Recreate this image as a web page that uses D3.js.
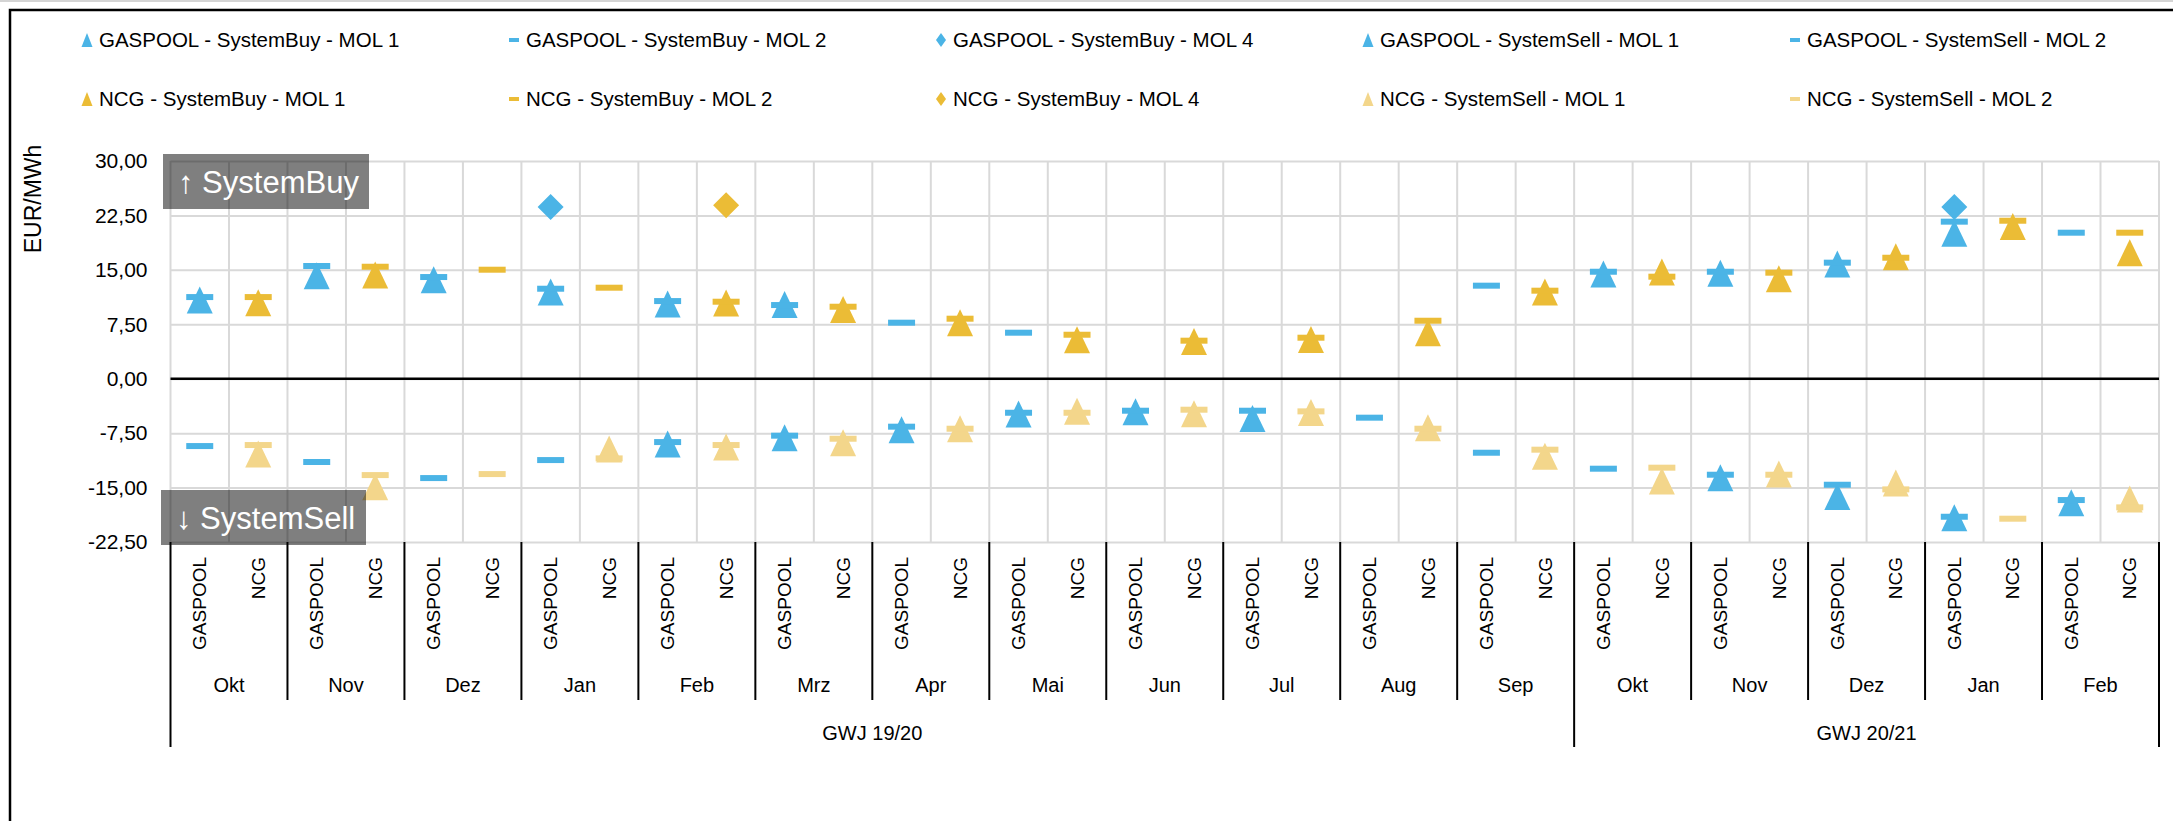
<!DOCTYPE html>
<html>
<head>
<meta charset="utf-8">
<script src="https://cdn.jsdelivr.net/npm/d3@7"></script>
<style>
  body { margin: 0; background: #fff; }
  svg { display: block; font-family: "Liberation Sans", Arial, sans-serif; }
</style>
</head>
<body>
<script>
// Categories: months, grouped by gas year, each split into the two hubs
const months = ["Okt", "Nov", "Dez", "Jan", "Feb", "Mrz", "Apr", "Mai", "Jun", "Jul", "Aug", "Sep",
                "Okt", "Nov", "Dez", "Jan", "Feb"];
const gwjLabels = ["GWJ 19/20", "GWJ 20/21"];
const monthsPerGwj = [12, 5];
const hubs = ["GASPOOL", "NCG"];
const yTicks = [-22.5, -15, -7.5, 0, 7.5, 15, 22.5, 30];

// GASPOOL values in EUR/MWh, one per month (null = no value)
const gaspoolBuyMol1 = [10.84, 14.19, 13.64, 11.94, 10.29, 10.24, null, null, null, null, null, null, 14.42, 14.52, 15.80, 20.03, null];
const gaspoolBuyMol2 = [11.25, 15.53, 14.01, 12.40, 10.70, 10.15, 7.72, 6.34, null, null, null, 12.82, 14.74, 14.74, 15.99, 21.64, 20.12];
const gaspoolBuyMol4 = [null, null, null, 23.66, null, null, null, null, null, null, null, null, null, null, null, 23.66, null];
const gaspoolSellMol1 = [null, null, null, null, -9.00, -8.13, -7.03, -4.87, -4.55, -5.47, null, null, null, -13.64, -16.22, -19.15, -17.09];
const gaspoolSellMol2 = [-9.28, -11.48, -13.69, -11.21, -8.73, -7.85, -6.61, -4.69, -4.41, -4.41, -5.37, -10.20, -12.40, -13.23, -14.61, -19.02, -16.72];

// NCG values in EUR/MWh
const ncgBuyMol1 = [10.47, 14.29, null, null, 10.43, 9.55, 7.72, 5.37, 5.14, 5.42, 6.34, 11.94, 14.70, 13.78, 16.81, 20.99, 17.36];
const ncgBuyMol2 = [11.25, 15.43, 15.02, 12.54, 10.61, 9.92, 8.27, 6.06, 5.24, 5.65, 7.99, 12.13, 14.06, 14.61, 16.67, 21.77, 20.12];
const ncgBuyMol4 = [null, null, null, null, 23.89, null, null, null, null, null, null, null, null, null, null, null, null];
const ncgSellMol1 = [-10.38, -14.88, null, -9.69, -9.42, -8.82, -6.89, -4.50, -4.82, -4.64, -6.75, -10.70, -14.10, -13.14, -14.38, null, -16.58];
const ncgSellMol2 = [-9.14, -13.28, -13.14, -10.98, -9.14, -8.27, -6.89, -4.69, -4.27, -4.50, -6.89, -9.78, -12.26, -13.23, -15.25, -19.29, -17.73];

const blue = "#4bb4e6";
const gold = "#ebbc36";
const lightGold = "#f3d68b";

// series in legend / drawing order
const series = [
  { name: "GASPOOL - SystemBuy - MOL 1", hub: "GASPOOL", values: gaspoolBuyMol1, shape: "triangle", color: blue },
  { name: "GASPOOL - SystemBuy - MOL 2", hub: "GASPOOL", values: gaspoolBuyMol2, shape: "dash", color: blue },
  { name: "GASPOOL - SystemBuy - MOL 4", hub: "GASPOOL", values: gaspoolBuyMol4, shape: "diamond", color: blue },
  { name: "GASPOOL - SystemSell - MOL 1", hub: "GASPOOL", values: gaspoolSellMol1, shape: "triangle", color: blue },
  { name: "GASPOOL - SystemSell - MOL 2", hub: "GASPOOL", values: gaspoolSellMol2, shape: "dash", color: blue },
  { name: "NCG - SystemBuy - MOL 1", hub: "NCG", values: ncgBuyMol1, shape: "triangle", color: gold },
  { name: "NCG - SystemBuy - MOL 2", hub: "NCG", values: ncgBuyMol2, shape: "dash", color: gold },
  { name: "NCG - SystemBuy - MOL 4", hub: "NCG", values: ncgBuyMol4, shape: "diamond", color: gold },
  { name: "NCG - SystemSell - MOL 1", hub: "NCG", values: ncgSellMol1, shape: "triangle", color: lightGold },
  { name: "NCG - SystemSell - MOL 2", hub: "NCG", values: ncgSellMol2, shape: "dash", color: lightGold }
];

const width = 2173;
const height = 821;
const plot = { left: 170.5, right: 2159, top: 161, bottom: 542 };

// marker paths centered on the data point
function markerPath(shape, w, h) {
  if (shape === "triangle") return `M0,${-h / 2}L${w / 2},${h / 2}L${-w / 2},${h / 2}Z`;
  if (shape === "diamond") return `M0,${-h / 2}L${w / 2},0L0,${h / 2}L${-w / 2},0Z`;
  return `M${-w / 2},${-h / 2}H${w / 2}V${h / 2}H${-w / 2}Z`;
}
const plotSize = { triangle: [26, 27], diamond: [26, 26], dash: [27, 6] };
const legendSize = { triangle: [11, 14], diamond: [10, 14], dash: [10, 4] };

const svg = d3.select("body")
  .append("svg")
  .attr("width", width)
  .attr("height", height);

// outer frame
svg.append("line").attr("x1", 0).attr("x2", width).attr("y1", 1).attr("y2", 1)
  .attr("stroke", "#d4d4d4").attr("stroke-width", 2);
svg.append("path")
  .attr("d", `M${width},10H10V${height}`)
  .attr("fill", "none").attr("stroke", "#000").attr("stroke-width", 2.5);

// scales
const cats = months.flatMap((m, i) => hubs.map(h => i + "|" + h));
const x = d3.scaleBand().domain(cats).range([plot.left, plot.right]);
const y = d3.scaleLinear().domain([-22.5, 30]).range([plot.bottom, plot.top]);

const locale = d3.formatLocale({ decimal: ",", thousands: ".", grouping: [3], currency: ["", " €"], minus: "-" });
const fmt = locale.format(".2f");

// horizontal grid
svg.append("g")
  .attr("transform", `translate(${plot.left},0)`)
  .call(d3.axisLeft(y).tickValues(yTicks).tickSize(-(plot.right - plot.left)).tickFormat(""))
  .call(g => g.select(".domain").remove())
  .call(g => g.selectAll("line").attr("stroke", "#d9d9d9").attr("stroke-width", 2));

// vertical grid at category boundaries
const bounds = cats.map(c => x(c)).concat([plot.right]);
svg.append("g")
  .selectAll("line")
  .data(bounds)
  .join("line")
  .attr("x1", d => d).attr("x2", d => d)
  .attr("y1", plot.top).attr("y2", plot.bottom)
  .attr("stroke", "#d9d9d9").attr("stroke-width", 2);

// zero line
svg.append("line")
  .attr("x1", plot.left).attr("x2", plot.right)
  .attr("y1", y(0)).attr("y2", y(0))
  .attr("stroke", "#000").attr("stroke-width", 2.5);

// y tick labels
svg.append("g")
  .attr("transform", `translate(${plot.left},0)`)
  .call(d3.axisLeft(y).tickValues(yTicks).tickSize(0).tickPadding(23).tickFormat(fmt))
  .call(g => g.select(".domain").remove())
  .call(g => g.selectAll("text").attr("font-size", 21).attr("font-family", "Liberation Sans, Arial, sans-serif").attr("fill", "#000"));

// y axis title
svg.append("text")
  .attr("transform", `translate(33,199) rotate(-90)`)
  .attr("text-anchor", "middle")
  .attr("dy", "0.35em")
  .attr("font-size", 23)
  .text("EUR/MWh");

// category labels (hub names, rotated)
svg.append("g")
  .attr("transform", `translate(0,${plot.bottom})`)
  .call(d3.axisBottom(x).tickSize(0).tickFormat(d => d.split("|")[1]))
  .call(g => g.select(".domain").remove())
  .call(g => g.selectAll("text")
    .attr("font-size", 19)
    .attr("font-family", "Liberation Sans, Arial, sans-serif")
    .attr("fill", "#000")
    .attr("transform", "rotate(-90)")
    .attr("text-anchor", "end")
    .attr("x", -15)
    .attr("y", 0)
    .attr("dy", "0.35em"));

// month separators and labels
const gwjStarts = d3.cumsum([0].concat(monthsPerGwj)).slice(0, -1);
const monthEdge = i => i < months.length ? x(i + "|" + hubs[0]) : plot.right;
const sepG = svg.append("g");
d3.range(months.length + 1).forEach(i => {
  const isGwj = gwjStarts.includes(i) || i === months.length;
  sepG.append("line")
    .attr("x1", monthEdge(i)).attr("x2", monthEdge(i))
    .attr("y1", plot.bottom).attr("y2", isGwj ? 747 : 700)
    .attr("stroke", "#000").attr("stroke-width", 2);
});
svg.append("g")
  .selectAll("text")
  .data(months)
  .join("text")
  .attr("x", (m, i) => (monthEdge(i) + monthEdge(i + 1)) / 2)
  .attr("y", 685)
  .attr("dy", "0.35em")
  .attr("text-anchor", "middle")
  .attr("font-size", 20)
  .text(m => m);

// gas year labels
svg.append("g")
  .selectAll("text")
  .data(gwjLabels)
  .join("text")
  .attr("x", (g, i) => (monthEdge(gwjStarts[i]) + monthEdge(gwjStarts[i] + monthsPerGwj[i])) / 2)
  .attr("y", 733)
  .attr("dy", "0.35em")
  .attr("text-anchor", "middle")
  .attr("font-size", 20)
  .text(g => g);

// markers
series.forEach(s => {
  const pts = s.values
    .map((v, i) => ({ key: i + "|" + s.hub, v }))
    .filter(d => d.v !== null);
  const [w, h] = plotSize[s.shape];
  svg.append("g")
    .selectAll("path")
    .data(pts)
    .join("path")
    .attr("transform", d => `translate(${x(d.key) + x.bandwidth() / 2},${y(d.v)})`)
    .attr("d", markerPath(s.shape, w, h))
    .attr("fill", s.color);
});

// annotation boxes
const notes = [
  { text: "\u2191 SystemBuy", x: 163, y: 154, w: 206, h: 55 },
  { text: "\u2193 SystemSell", x: 161, y: 490, w: 205, h: 55 }
];
notes.forEach(n => {
  svg.append("rect")
    .attr("x", n.x).attr("y", n.y).attr("width", n.w).attr("height", n.h)
    .attr("fill", "#000").attr("fill-opacity", 0.5);
  svg.append("text")
    .attr("x", n.x + 15).attr("y", n.y + 39)
    .attr("fill", "#fff")
    .attr("font-size", 31)
    .text(n.text);
});

// legend
const legend = svg.append("g")
  .selectAll("g")
  .data(series)
  .join("g")
  .attr("transform", (s, i) => `translate(${87 + (i % 5) * 427},${40 + Math.floor(i / 5) * 59})`);
legend.append("path")
  .attr("d", s => markerPath(s.shape, legendSize[s.shape][0], legendSize[s.shape][1]))
  .attr("fill", s => s.color);
legend.append("text")
  .attr("x", 12)
  .attr("dy", "0.35em")
  .attr("font-size", 20.5)
  .text(s => s.name);
</script>
</body>
</html>
